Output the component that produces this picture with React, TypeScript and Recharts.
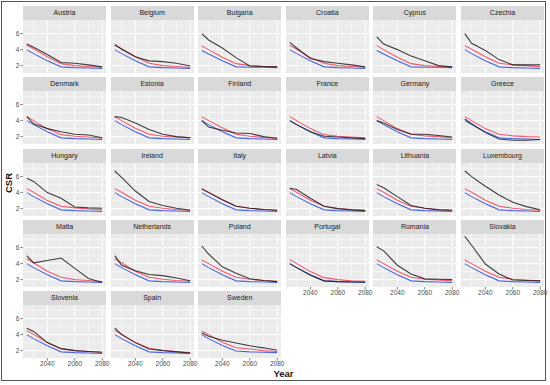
import React from "react";
import { LineChart, Line, XAxis, YAxis, ReferenceLine } from "recharts";

const years = [2025, 2030, 2040, 2050, 2060, 2070, 2080];

const countries = [
  "Austria", "Belgium", "Bulgaria", "Croatia", "Cyprus", "Czechia",
  "Denmark", "Estonia", "Finland", "France", "Germany", "Greece",
  "Hungary", "Ireland", "Italy", "Latvia", "Lithuania", "Luxembourg",
  "Malta", "Netherlands", "Poland", "Portugal", "Romania", "Slovakia",
  "Slovenia", "Spain", "Sweden",
];

const blackCSR = [
  [4.7, 4.3, 3.4, 2.4, 2.3, 2.1, 1.85],
  [4.6, 4.05, 3.1, 2.6, 2.5, 2.3, 1.95],
  [6.0, 5.2, 4.2, 3.0, 1.95, 1.9, 1.85],
  [4.9, 4.2, 2.9, 2.5, 2.3, 2.1, 1.85],
  [5.6, 4.7, 4.0, 3.2, 2.6, 2.0, 1.85],
  [6.0, 4.8, 3.9, 2.75, 2.1, 2.1, 2.1],
  [4.5, 3.6, 3.0, 2.6, 2.3, 2.2, 1.85],
  [4.5, 4.4, 3.7, 2.9, 2.3, 2.0, 1.85],
  [4.0, 3.2, 2.8, 2.45, 2.4, 2.0, 1.8],
  [4.0, 3.5, 2.6, 2.05, 1.95, 1.85, 1.75],
  [4.0, 3.7, 2.9, 2.3, 2.3, 2.15, 1.95],
  [4.2, 3.6, 2.5, 1.7, 1.55, 1.55, 1.65],
  [5.8, 5.4, 4.0, 3.3, 2.2, 2.1, 2.05],
  [6.7, 5.9, 4.2, 2.9, 2.4, 2.05, 1.8],
  [4.45, 4.0, 3.1, 2.3, 2.05, 1.9, 1.8],
  [4.55, 4.4, 3.3, 2.3, 2.0, 1.85, 1.75],
  [5.0, 4.6, 3.5, 2.4, 2.05, 1.85, 1.8],
  [6.7, 6.0, 4.8, 3.7, 2.8, 2.25, 1.85],
  [5.0, 4.1, 4.4, 4.7, 3.4, 2.15, 1.65],
  [5.0, 3.8, 3.1, 2.65, 2.5, 2.2, 1.85],
  [6.2, 5.2, 3.6, 2.8, 2.1, 1.9, 1.75],
  [4.0, 3.5, 2.55, 1.85, 1.75, 1.7, 1.7],
  [6.1, 5.6, 3.8, 2.7, 2.1, 2.05, 2.0],
  [7.4, 6.3, 3.95, 2.7, 1.95, 1.9, 1.85],
  [4.8, 4.4, 3.0, 2.25, 2.0, 1.9, 1.8],
  [4.85, 4.0, 3.0, 2.2, 2.0, 1.85, 1.7],
  [4.2, 3.8, 3.3, 2.95, 2.6, 2.35, 2.05],
];

const redCSR = [
  [4.55, 4.1, 3.1, 2.25, 2.0, 1.9, 1.8],
  [4.6, 4.1, 3.1, 2.3, 2.0, 1.9, 1.75],
  [4.45, 4.0, 3.05, 2.25, 2.0, 1.9, 1.85],
  [4.55, 4.05, 3.0, 2.3, 2.0, 1.9, 1.8],
  [4.5, 4.0, 3.05, 2.25, 2.0, 1.9, 1.8],
  [4.5, 4.05, 3.1, 2.3, 2.1, 2.0, 1.85],
  [4.5, 4.0, 3.0, 2.25, 2.05, 1.95, 1.8],
  [4.5, 4.0, 3.05, 2.3, 2.05, 1.95, 1.9],
  [4.5, 4.0, 3.1, 2.3, 2.05, 1.9, 1.8],
  [4.5, 4.0, 3.0, 2.25, 2.05, 1.95, 1.85],
  [4.5, 4.0, 3.0, 2.3, 2.1, 2.0, 1.85],
  [4.5, 4.0, 3.0, 2.3, 2.1, 2.0, 1.95],
  [4.5, 4.05, 3.0, 2.3, 2.1, 1.95, 1.85],
  [4.5, 4.05, 3.05, 2.3, 2.05, 1.9, 1.8],
  [4.5, 4.05, 3.1, 2.3, 2.05, 1.9, 1.8],
  [4.5, 4.05, 3.05, 2.3, 2.0, 1.9, 1.8],
  [4.5, 4.05, 3.05, 2.3, 2.05, 1.9, 1.8],
  [4.5, 4.05, 3.05, 2.3, 2.05, 1.9, 1.8],
  [4.6, 4.1, 3.05, 2.3, 2.0, 1.9, 1.75],
  [4.6, 4.1, 3.05, 2.3, 2.05, 1.9, 1.8],
  [4.45, 4.0, 3.05, 2.3, 2.05, 1.9, 1.8],
  [4.5, 4.0, 3.0, 2.25, 2.0, 1.85, 1.8],
  [4.45, 4.0, 3.05, 2.3, 2.05, 1.95, 1.85],
  [4.45, 4.0, 3.05, 2.3, 2.05, 1.95, 1.85],
  [4.5, 4.05, 3.0, 2.25, 2.0, 1.9, 1.8],
  [4.55, 4.05, 3.0, 2.3, 2.05, 1.9, 1.75],
  [4.45, 4.0, 3.05, 2.35, 2.2, 2.0, 1.9],
];

const blueCSR = countries.map((c) =>
  c === "Bulgaria" || c === "Cyprus"
    ? [3.9, 3.45, 2.6, 1.85, 1.8, 1.8, 1.75]
    : c === "Sweden"
    ? [4.0, 3.5, 2.65, 1.95, 1.85, 1.8, 1.75]
    : [4.0, 3.5, 2.6, 1.85, 1.75, 1.7, 1.65]
);

const xTicks = [2040, 2060, 2080];
const yTicks = [2, 4, 6];
const xMinor = [2030, 2050, 2070];
const yMinor = [3, 5, 7];

const FONT = '"Liberation Sans", Arial, Helvetica, sans-serif';
const COL_X0 = 23;
const COL_STEP = 87.6;
const PANEL_W = 83;
const ROW_Y0 = 5.7;
const ROW_STEP = 71.4;
const STRIP_H = 14;
const PANEL_H = 53;
const Y_AXIS_W = 14;
const X_AXIS_H = 12;
const RIGHT_PAD = 10;

function Panel({ idx }: { idx: number }) {
  const col = idx % 6;
  const row = Math.floor(idx / 6);
  const left = COL_X0 + COL_STEP * col;
  const stripTop = ROW_Y0 + ROW_STEP * row;
  const panelTop = stripTop + STRIP_H;
  const showY = col === 0;
  const showX = (col <= 2 && row === 4) || (col >= 3 && row === 3);
  const data = years.map((y, i) => ({
    year: y,
    black: blackCSR[idx][i],
    red: redCSR[idx][i],
    blue: blueCSR[idx][i],
  }));
  const yw = showY ? Y_AXIS_W : 0;
  const xh = showX ? X_AXIS_H : 0;
  const rp = showX ? RIGHT_PAD : 0;
  return (
    <>
      <div
        style={{
          position: "absolute",
          left,
          top: stripTop,
          width: PANEL_W,
          height: STRIP_H,
          background: "#D9D9D9",
          color: "#1A1A1A",
          fontSize: 7,
          lineHeight: `${STRIP_H}px`,
          textAlign: "center",
          fontFamily: FONT,
        }}
      >
        {countries[idx]}
      </div>
      <div
        style={{
          position: "absolute",
          left,
          top: panelTop,
          width: PANEL_W,
          height: PANEL_H,
          background: "#EBEBEB",
        }}
      />
      <div style={{ position: "absolute", left: left - yw, top: panelTop }}>
        <LineChart
          width={PANEL_W + yw + rp}
          height={PANEL_H + xh}
          data={data}
          margin={{ top: 0, right: rp, bottom: 0, left: 0 }}
          style={{ overflow: "visible" }}
        >
          <XAxis
            dataKey="year"
            type="number"
            domain={[2022.25, 2082.75]}
            ticks={xTicks}
            hide={!showX}
            height={X_AXIS_H}
            axisLine={false}
            tickLine={{ stroke: "#333333", strokeWidth: 0.6 }}
            tickSize={2.7}
            tickMargin={0.5}
            tick={{ fontSize: 6.5, fill: "#4D4D4D", fontFamily: FONT }}
            allowDataOverflow
            interval={0}
          />
          <YAxis
            type="number"
            domain={[1.08, 7.7]}
            ticks={yTicks}
            hide={!showY}
            width={Y_AXIS_W}
            axisLine={false}
            tickLine={{ stroke: "#333333", strokeWidth: 0.6 }}
            tickSize={2.7}
            tickMargin={1}
            tick={{ fontSize: 6.5, fill: "#4D4D4D", fontFamily: FONT }}
            allowDataOverflow
            interval={0}
          />
          {yMinor.map((v) => (
            <ReferenceLine key={"ym" + v} y={v} stroke="#FFFFFF" strokeWidth={0.5} ifOverflow="hidden" />
          ))}
          {xMinor.map((v) => (
            <ReferenceLine key={"xm" + v} x={v} stroke="#FFFFFF" strokeWidth={0.5} ifOverflow="hidden" />
          ))}
          {yTicks.map((v) => (
            <ReferenceLine key={"yM" + v} y={v} stroke="#FFFFFF" strokeWidth={1} ifOverflow="hidden" />
          ))}
          {xTicks.map((v) => (
            <ReferenceLine key={"xM" + v} x={v} stroke="#FFFFFF" strokeWidth={1} ifOverflow="hidden" />
          ))}
          <Line dataKey="blue" stroke="#2F4FD6" strokeOpacity={0.85} strokeWidth={1.1} dot={false} isAnimationActive={false} />
          <Line dataKey="red" stroke="#F0364A" strokeOpacity={0.8} strokeWidth={1.1} dot={false} isAnimationActive={false} />
          <Line dataKey="black" stroke="#111111" strokeOpacity={0.8} strokeWidth={1.1} dot={false} isAnimationActive={false} />
        </LineChart>
      </div>
    </>
  );
}

export default function App() {
  return (
    <div
      style={{
        position: "absolute",
        left: 0,
        top: 0,
        width: 550,
        height: 385,
        background: "#FFFFFF",
        fontFamily: FONT,
        overflow: "hidden",
      }}
    >
      <div
        style={{
          position: "absolute",
          left: 1,
          top: 1,
          width: 543,
          height: 378,
          border: "1px solid #555555",
        }}
      />
      {countries.map((c, i) => (
        <Panel key={c} idx={i} />
      ))}
      <div
        style={{
          position: "absolute",
          left: 8,
          top: 183,
          transform: "translate(-50%, -50%) rotate(-90deg)",
          fontSize: 9.5,
          fontWeight: "bold",
          color: "#1A1A1A",
          whiteSpace: "nowrap",
        }}
      >
        CSR
      </div>
      <div
        style={{
          position: "absolute",
          left: 283.5,
          top: 372.5,
          transform: "translate(-50%, -50%)",
          fontSize: 9.5,
          fontWeight: "bold",
          color: "#1A1A1A",
          whiteSpace: "nowrap",
        }}
      >
        Year
      </div>
    </div>
  );
}
